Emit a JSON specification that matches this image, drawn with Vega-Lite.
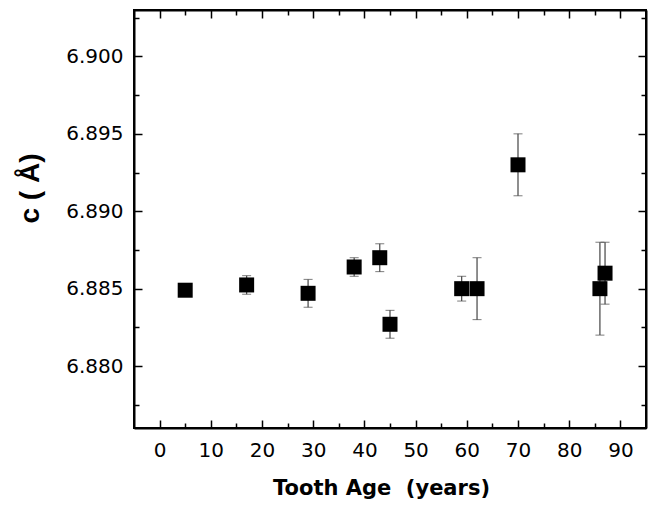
{
  "$schema": "https://vega.github.io/schema/vega-lite/v6.json",
  "width": 512,
  "height": 418,
  "autosize": "none",
  "padding": {"left": 134, "top": 10, "right": 3, "bottom": 83},
  "background": "white",
  "config": {
    "view": {"stroke": "black", "strokeWidth": 2},
    "axis": {
      "grid": false,
      "domainColor": "black",
      "domainWidth": 2,
      "tickColor": "black",
      "tickWidth": 1.5,
      "labelColor": "black",
      "titleColor": "black"
    }
  },
  "data": {
    "values": [
      {"age": 5, "c": 6.8849, "err": 0.0003},
      {"age": 17, "c": 6.88524, "err": 0.0006},
      {"age": 29, "c": 6.8847, "err": 0.0009},
      {"age": 38, "c": 6.8864, "err": 0.0006},
      {"age": 43, "c": 6.887, "err": 0.0009},
      {"age": 45, "c": 6.8827, "err": 0.0009},
      {"age": 59, "c": 6.885, "err": 0.0008},
      {"age": 62, "c": 6.885, "err": 0.002},
      {"age": 70, "c": 6.893, "err": 0.002},
      {"age": 86, "c": 6.885, "err": 0.003},
      {"age": 87, "c": 6.886, "err": 0.002}
    ]
  },
  "layer": [
    {
      "mark": {"type": "errorbar", "color": "#444", "ticks": {"size": 9, "color": "#444"}, "rule": {"strokeWidth": 1.2}},
      "encoding": {
        "x": {
          "field": "age", "type": "quantitative",
          "scale": {"domain": [-5, 95], "nice": false, "zero": false},
          "axis": {
            "orient": "bottom",
            "values": [0,5,10,15,20,25,30,35,40,45,50,55,60,65,70,75,80,85,90],
            "labelExpr": "datum.value % 10 === 0 ? datum.label : ''",
            "tickSize": {"condition": {"test": "datum.value % 10 === 0", "value": -8}, "value": -5},
            "labelPadding": 20,
            "labelBaseline": "top",
            "labelFont": "DejaVu Sans",
            "labelFontSize": 20,
            "title": "Tooth Age\u00a0 (years)",
            "titleFont": "DejaVu Sans",
            "titleFontSize": 21,
            "titleFontWeight": "bold",
            "titleX": 247,
            "titleY": 60,
            "titleBaseline": "middle",
            "titleAlign": "center"
          }
        },
        "y": {
          "field": "c", "type": "quantitative",
          "scale": {"domain": [6.876, 6.903], "nice": false, "zero": false},
          "axis": {
            "orient": "left",
            "values": [6.8775,6.88,6.8825,6.885,6.8875,6.89,6.8925,6.895,6.8975,6.9,6.9025],
            "labelExpr": "abs(datum.value*200 - round(datum.value*200)) < 0.01 ? format(datum.value, '.3f') : ''",
            "tickSize": {"condition": {"test": "abs(datum.value*200 - round(datum.value*200)) < 0.01", "value": -8}, "value": -5},
            "labelPadding": 19,
            "labelFont": "DejaVu Sans",
            "labelFontSize": 20,
            "title": "c ( Å)",
            "titleFont": "Liberation Sans",
            "titleFontSize": 28,
            "titleFontWeight": "bold",
            "titleX": -104,
            "titleY": 178,
            "titleAngle": -90,
            "titleBaseline": "middle",
            "titleAlign": "center"
          }
        },
        "yError": {"field": "err"}
      }
    },
    {
      "mark": {"type": "point", "shape": "square", "filled": true, "size": 225, "color": "black", "opacity": 1},
      "encoding": {
        "x": {
          "field": "age", "type": "quantitative",
          "axis": {
            "orient": "top",
            "values": [0,5,10,15,20,25,30,35,40,45,50,55,60,65,70,75,80,85,90],
            "labels": false,
            "tickSize": {"condition": {"test": "datum.value % 10 === 0", "value": -8}, "value": -5},
            "title": null
          }
        },
        "y": {
          "field": "c", "type": "quantitative",
          "axis": {
            "orient": "right",
            "values": [6.8775,6.88,6.8825,6.885,6.8875,6.89,6.8925,6.895,6.8975,6.9,6.9025],
            "labels": false,
            "tickSize": {"condition": {"test": "abs(datum.value*200 - round(datum.value*200)) < 0.01", "value": -8}, "value": -5},
            "title": null
          }
        }
      }
    }
  ],
  "resolve": {"axis": {"x": "independent", "y": "independent"}}
}
